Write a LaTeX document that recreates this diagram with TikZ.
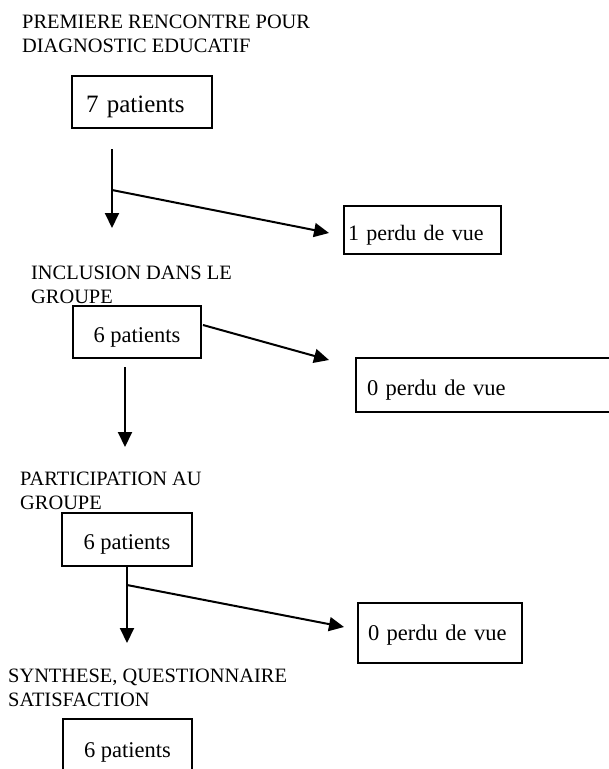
\documentclass[tikz,border=0pt]{standalone}
\usepackage{fontspec}
\setmainfont{Liberation Serif}
\usetikzlibrary{arrows.meta}

\begin{document}
\begin{tikzpicture}[x=1pt,y=-1pt,
    titre/.style={anchor=base west,align=left,inner sep=0pt,font=\fontsize{20.4}{24}\selectfont},
    bloc/.style={draw,fill=white,line width=1.6pt,inner sep=0pt,text height=20pt,text depth=0pt,font=\fontsize{22.5}{27}\selectfont},
    perdu/.style={bloc,align=left,inner ysep=0pt,font=\fontsize{22}{26}\selectfont},
    fl/.style={-{Triangle[length=15pt,width=14pt]},line width=2pt},
    >=Triangle]
\useasboundingbox (0,0) rectangle (609,769);
% step titles
\node[titre] (t1) at (22,52) {PREMIERE RENCONTRE POUR\\DIAGNOSTIC EDUCATIF};
\node[titre] (t2) at (31,303) {INCLUSION DANS LE\\GROUPE};
\node[titre] (t3) at (20,509) {PARTICIPATION AU\\GROUPE};
\node[titre] (t4) at (8,706) {SYNTHESE, QUESTIONNAIRE\\SATISFACTION};
% patient boxes
\node[bloc,inner xsep=14pt,text width=112pt,align=left,minimum height=52pt,font=\fontsize{25}{30}\selectfont] (p1) at (142,102) {7 patients};
\node[bloc,minimum width=128pt,minimum height=52pt] (p2) at (137,332) {6 patients};
\node[bloc,minimum width=130pt,minimum height=53pt] (p3) at (127,539.5) {6 patients};
\node[bloc,minimum width=129pt,minimum height=56pt] (p4) at (127.5,747) {6 patients};
% lost to follow-up boxes
\node[perdu,inner xsep=4pt,text width=149pt,minimum height=48pt] (q1) at (422.5,230) {1 perdu de vue};
\node[perdu,inner xsep=11pt,text width=242pt,minimum height=54pt,font=\fontsize{22.5}{27}\selectfont] (q2) at (488,385) {0 perdu de vue};
\node[perdu,inner xsep=10pt,text width=144pt,minimum height=60pt,text height=14pt,font=\fontsize{22.5}{27}\selectfont] (q3) at (440,633) {0 perdu de vue};
% arrow ends
\coordinate (a1) at (112,149);
\coordinate (a1b) at (112,228);
\coordinate (a1c) at (112,190);
\coordinate (a1d) at (329,233);
\coordinate (a2) at (203,325);
\coordinate (a2b) at (329,360);
\coordinate (a3) at (125,367);
\coordinate (a3b) at (125,447);
\coordinate (a4) at (127,566);
\coordinate (a4b) at (127,643);
\coordinate (a4c) at (127,585);
\coordinate (a4d) at (344,627);
% arrows
\draw[fl] (a1) -- (a1b);
\draw[fl] (a1c) -- (a1d);
\draw[fl] (a2) -- (a2b);
\draw[fl] (a3) -- (a3b);
\draw[fl] (a4) -- (a4b);
\draw[fl] (a4c) -- (a4d);
\end{tikzpicture}
\end{document}
